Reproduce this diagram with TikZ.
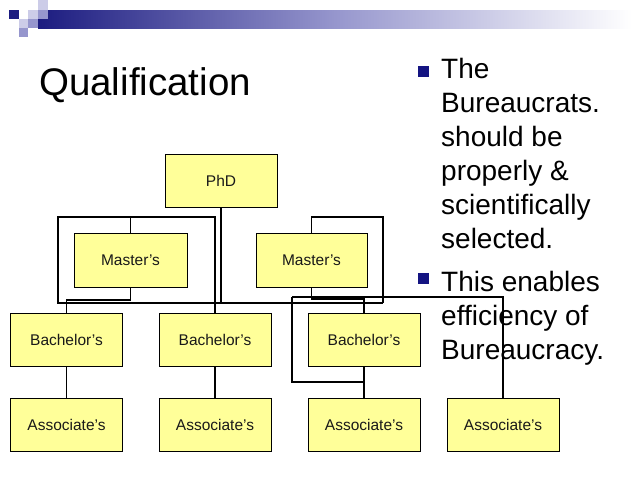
\documentclass[tikz,border=0pt]{standalone}
\usepackage{fontspec}
\setmainfont{Liberation Sans}
\definecolor{boxfill}{RGB}{255,255,153}
\definecolor{navyA}{RGB}{28,28,128}
\definecolor{navyM}{RGB}{150,150,205}
\definecolor{navyL}{RGB}{204,204,232}
\definecolor{bulletc}{RGB}{20,20,130}
\begin{document}
\begin{tikzpicture}[x=1pt,y=-1pt,
  degbox/.style={draw=black,line width=1pt,fill=boxfill,minimum width=112pt,minimum height=53pt,inner sep=0pt,font=\fontsize{15.5}{18}\selectfont,text=black!90},
  thick line/.style={line width=1.8pt,line join=miter},
  thin line/.style={line width=1.3pt},
  bodytext/.style={anchor=base west,inner sep=0pt,font=\fontsize{28}{34}\selectfont},
  bulletsq/.style={fill=bulletc}]
\useasboundingbox (0,0) rectangle (638,479);
% header band
\shade[left color=navyA,right color=white,middle color=navyM] (38,10) rectangle (632,28);
\fill[navyA] (9,10) rectangle (19,19);
\fill[navyL] (28,10) rectangle (38,19);
\fill[navyM] (38,10) rectangle (48,19);
\fill[navyL] (38,0) rectangle (48,10);
\fill[navyL] (19,19) rectangle (28,28);
\fill[navyM] (28,19) rectangle (38,28);
\fill[navyM] (19,28) rectangle (28,37);
% title
\node[anchor=base west,inner sep=0pt,font=\fontsize{38.5}{44}\selectfont] (title) at (39,95) {Qualification};
% bullets
\fill[bulletc] (418,66) rectangle (429,77);
\fill[bulletc] (418,273) rectangle (429,284);
\node[bodytext] (l1) at (441,78) {The};
\node[bodytext] (l2) at (441,112) {Bureaucrats.};
\node[bodytext] (l3) at (441,146) {should be};
\node[bodytext] (l4) at (441,180) {properly \&};
\node[bodytext] (l5) at (441,214) {scientifically};
\node[bodytext] (l6) at (441,248) {selected.};
\node[bodytext] (l7) at (441,291) {This enables};
\node[bodytext] (l8) at (441,325) {efficiency of};
\node[bodytext] (l9) at (441,359) {Bureaucracy.};
% boxes
\node[degbox] (phd) at (221,180.5) {PhD};
\node[degbox,minimum height=54pt,minimum width=113pt] (mL) at (130.5,260) {Master’s};
\node[degbox,minimum height=54pt,minimum width=111pt] (mR) at (311.5,260) {Master’s};
\node[degbox] (b1) at (66.5,339.5) {Bachelor’s};
\node[degbox] (b2) at (215,339.5) {Bachelor’s};
\node[degbox] (b3) at (364,339.5) {Bachelor’s};
\node[degbox] (a1) at (66.5,425) {Associate’s};
\node[degbox] (a2) at (215,425) {Associate’s};
\node[degbox] (a3) at (364,425) {Associate’s};
\node[degbox] (a4) at (503,425) {Associate’s};
% connector coordinates
\coordinate (lTL) at (58,217);
\coordinate (lBR) at (215,303);
\coordinate (hR) at (383,303);
\coordinate (rTR) at (383,217);
\coordinate (xJ) at (292,297);
\coordinate (xB) at (292,382);
% connectors
\draw[thick line] (lTL) rectangle (lBR);
\draw[thick line] (lTL |- lBR) -- (hR);
\draw[thick line] (mL.north) -- (mL.north |- lTL);
\draw[thick line] (mL.south) -- (130.5,300) -- (b1.north |- 0,300) -- (b1.north);
\draw[thin line] (lBR) -- (b2.north);
\draw[thick line] (phd.south) -- (phd.south |- lBR);
\draw[thick line] (mR.north) -- (mR.north |- rTR) -- (rTR) -- (hR);
\draw[thick line] (mR.south) -- (311.5,299) -- (b3.north |- 0,299) -- (b3.north);
\draw[thin line] (xJ) -- (a4.north |- xJ) -- (a4.north);
\draw[thick line] (xJ) -- (xB) -- (b3.south |- xB);
\draw[thin line] (b1.south) -- (a1.north);
\draw[thin line] (b2.south) -- (a2.north);
\draw[thin line] (b3.south) -- (a3.north);
\end{tikzpicture}
\end{document}
